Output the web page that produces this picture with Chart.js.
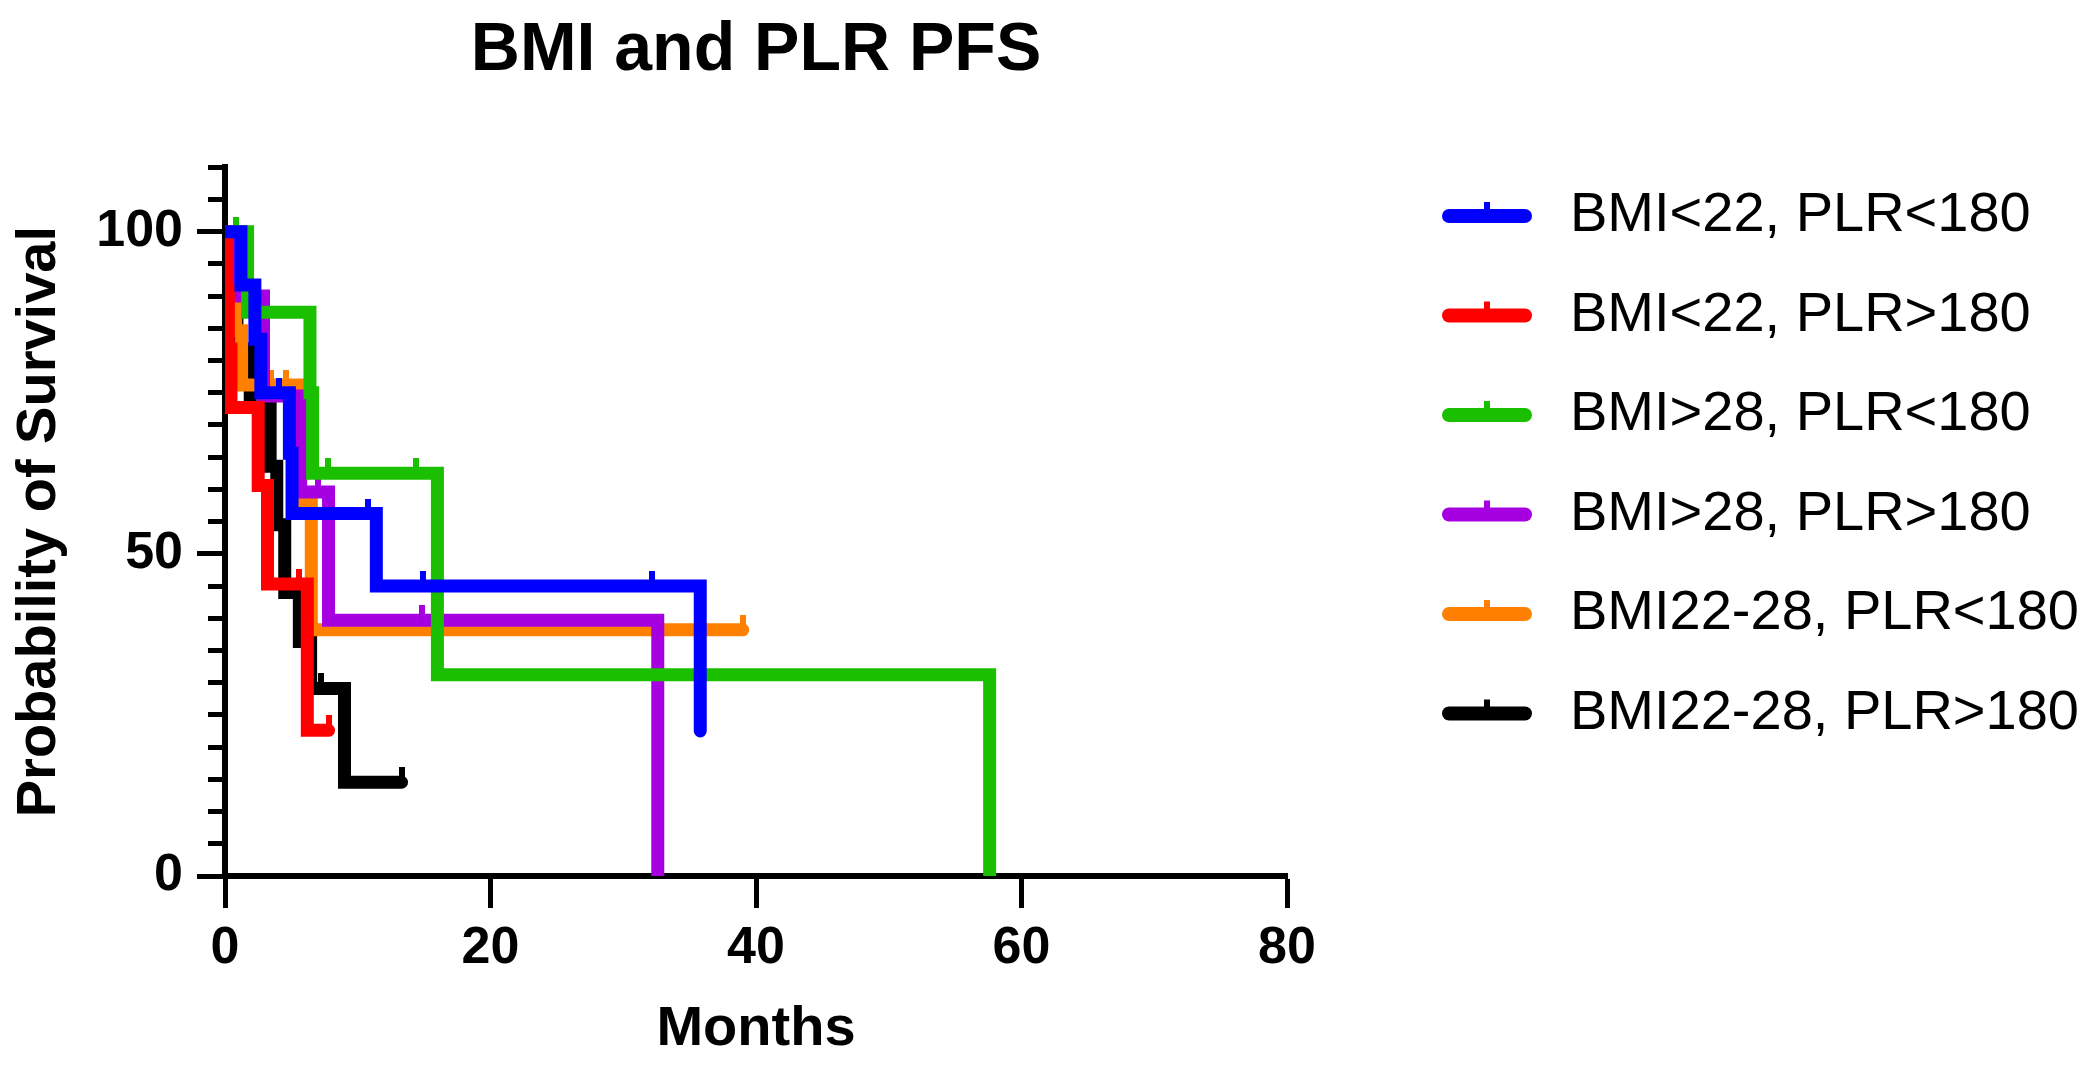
<!DOCTYPE html>
<html>
<head>
<meta charset="utf-8">
<title>BMI and PLR PFS</title>
<script src="https://cdn.jsdelivr.net/npm/chart.js@4.4.1/dist/chart.umd.min.js"></script>
<style>
  html, body { margin: 0; padding: 0; background: #fff; overflow: hidden; }
  canvas { display: block; }
</style>
</head>
<body>
<canvas id="pfsChart" width="2100" height="1068"></canvas>
<script>
// survival data: time (months), survival (%), censored flag
const groupLabels = ['BMI<22, PLR<180', 'BMI<22, PLR>180', 'BMI>28, PLR<180',
    'BMI>28, PLR>180', 'BMI22-28, PLR<180', 'BMI22-28, PLR>180'];
const groupColors = ['#0000FF', '#FF0000', '#1ABF00', '#A600E0', '#FF8000', '#000000'];

const blueT = [0, 1.2, 2.25, 2.7, 4.1, 4.85, 5.05, 10.8, 11.4, 14.9, 32.2, 35.8];
const blueS = [100, 91.7, 83.3, 75, 75, 65.6, 56.25, 56.25, 45, 45, 45, 22.5];
const blueC = [0, 0, 0, 0, 1, 0, 0, 1, 0, 1, 1, 1];

const redT = [0, 0.1, 0.25, 0.45, 2.5, 3.2, 5.6, 6.2, 7.8];
const redS = [100, 90.9, 81.8, 72.7, 60.6, 45.3, 45.3, 22.6, 22.6];
const redC = [0, 0, 0, 0, 0, 0, 1, 0, 1];

const greenT = [0, 0.8, 1.7, 6.4, 6.6, 7.75, 14.4, 16.0, 57.6];
const greenS = [100, 100, 87.5, 75, 62.5, 62.5, 62.5, 31.25, 0];
const greenC = [0, 1, 0, 0, 0, 1, 1, 0, 0];

const purpleT = [0, 0.6, 2.9, 5.7, 7.0, 7.8, 14.85, 32.6];
const purpleS = [100, 90, 74.5, 59.6, 59.6, 39.7, 39.7, 0];
const purpleC = [0, 0, 0, 0, 1, 0, 1, 0];

const orangeT = [0, 0.75, 0.8, 1.25, 3.5, 4.6, 5.6, 6.5, 39.0];
const orangeS = [100, 92.3, 84.6, 76.2, 76.2, 76.2, 57.7, 38.2, 38.2];
const orangeC = [0, 0, 0, 0, 1, 1, 0, 0, 1];

const blackT = [0, 0.3, 0.9, 1.9, 3.4, 3.9, 4.5, 5.6, 6.45, 7.2, 9.0, 13.3];
const blackS = [100, 90.9, 81.8, 72.7, 63.6, 54.5, 44, 36.4, 29.1, 29.1, 14.55, 14.55];
const blackC = [0, 0, 0, 0, 0, 0, 0, 0, 0, 1, 0, 1];

const xTicks = [0, 20, 40, 60, 80];
const yLabelled = [0, 50, 100];

const groupTimes = [blueT, redT, greenT, purpleT, orangeT, blackT];
const groupSurv = [blueS, redS, greenS, purpleS, orangeS, blackS];
const groupCens = [blueC, redC, greenC, purpleC, orangeC, blackC];

// small upward tick used as the censor mark
function censorMark(color) {
    const c = document.createElement('canvas');
    c.width = 6;
    c.height = 30;
    const g = c.getContext('2d');
    g.fillStyle = color;
    g.fillRect(0, 0, 6, 15);
    return c;
}

const datasets = groupLabels.map((label, i) => {
    const cens = groupCens[i];
    return {
        label: label,
        data: groupTimes[i].map((t, k) => ({ x: t, y: groupSurv[i][k] })),
        borderColor: groupColors[i],
        backgroundColor: groupColors[i],
        borderWidth: 13,
        borderCapStyle: 'round',
        borderJoinStyle: 'miter',
        stepped: true,
        fill: false,
        pointStyle: censorMark(groupColors[i]),
        pointRadius: ctx => cens[ctx.dataIndex] ? 4 : 0
    };
});

// legend drawn by hand to match the GraphPad look (line with a tick)
const sideLegend = {
    id: 'sideLegend',
    afterDraw(chart) {
        const ctx = chart.ctx;
        chart.data.datasets.forEach((ds, i) => {
            const y = 216 + i * 99.5;
            ctx.save();
            ctx.strokeStyle = ds.borderColor;
            ctx.lineWidth = 14;
            ctx.lineCap = 'round';
            ctx.beginPath();
            ctx.moveTo(1449, y);
            ctx.lineTo(1525, y);
            ctx.stroke();
            ctx.fillStyle = ds.borderColor;
            ctx.fillRect(1484, y - 14, 6, 8);
            ctx.fillStyle = '#000';
            ctx.font = '56px "Liberation Sans", Arial, sans-serif';
            ctx.textBaseline = 'middle';
            ctx.fillText(ds.label, 1570, y);
            ctx.restore();
        });
    }
};

Chart.defaults.font.family = '"Liberation Sans", Arial, sans-serif';
Chart.defaults.color = '#000';

new Chart(document.getElementById('pfsChart').getContext('2d'), {
    type: 'line',
    data: { datasets: datasets },
    options: {
        responsive: false,
        animation: false,
        events: [],
        layout: { padding: { left: 0, right: 813, top: 0, bottom: 0 } },
        plugins: {
            legend: { display: false },
            tooltip: { enabled: false },
            title: {
                display: true,
                text: 'BMI and PLR PFS',
                fullSize: false,
                font: { size: 68, weight: 'bold' },
                padding: { top: 10, bottom: 75.6 }
            }
        },
        scales: {
            x: {
                type: 'linear',
                min: 0,
                max: 80,
                afterFit: scale => { scale.height = 192; },
                afterBuildTicks: scale => { scale.ticks = xTicks.map(v => ({ value: v })); },
                border: { display: true, color: '#000', width: 6 },
                grid: {
                    drawOnChartArea: false,
                    drawTicks: true,
                    tickLength: 32,
                    tickWidth: 5,
                    tickColor: '#000'
                },
                ticks: {
                    font: { size: 52, weight: 'bold' },
                    padding: 9,
                    maxRotation: 0
                },
                title: {
                    display: true,
                    text: 'Months',
                    font: { size: 56, weight: 'bold' },
                    padding: { top: 0, bottom: 5 }
                }
            },
            y: {
                min: 0,
                max: 110,
                afterFit: scale => { scale.width = 225; },
                border: { display: true, color: '#000', width: 6 },
                grid: {
                    drawOnChartArea: false,
                    drawTicks: true,
                    tickLength: 28,
                    tickWidth: 5,
                    tickColor: '#000',
                    // minor ticks: only the part next to the axis is drawn
                    tickBorderDash: ctx => yLabelled.includes(ctx.tick.value) ? [] : [0, 11, 100, 0]
                },
                ticks: {
                    stepSize: 5,
                    autoSkip: false,
                    font: { size: 52, weight: 'bold' },
                    padding: 14,
                    callback: v => yLabelled.includes(v) ? String(v) : ''
                },
                title: {
                    display: true,
                    text: 'Probability of Survival',
                    font: { size: 56, weight: 'bold' },
                    padding: { top: 6, bottom: 0 }
                }
            }
        }
    },
    plugins: [sideLegend]
});
</script>
</body>
</html>
